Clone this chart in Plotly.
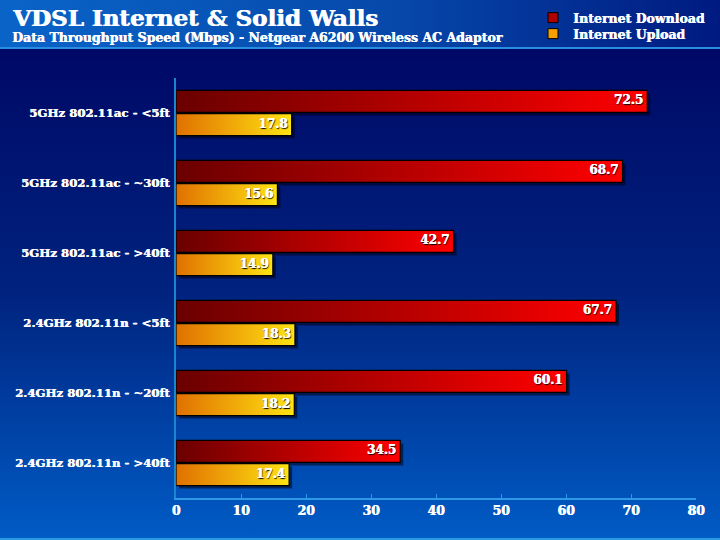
import base64
import plotly.graph_objects as go

categories = ["5GHz 802.11ac - <5ft", "5GHz 802.11ac - ~30ft", "5GHz 802.11ac - >40ft",
              "2.4GHz 802.11n - <5ft", "2.4GHz 802.11n - ~20ft", "2.4GHz 802.11n - >40ft"]
download = [72.5, 68.7, 42.7, 67.7, 60.1, 34.5]
upload = [17.8, 15.6, 14.9, 18.3, 18.2, 17.4]
x_ticks = [0, 10, 20, 30, 40, 50, 60, 70, 80]

W, H = 720, 540
L, R, T, B = 176, 24, 78, 42
PW, PH = W - L - R, H - T - B
FONT = "DejaVu Serif"
THICK = "0.6px 0 0 #ffffff"

svg = f'''<svg xmlns="http://www.w3.org/2000/svg" width="{W}" height="{H}" viewBox="0 0 {W} {H}" preserveAspectRatio="none">
<defs>
<linearGradient id="hd" x1="0" y1="0" x2="1" y2="0">
<stop offset="0" stop-color="#0a64c8"/><stop offset="0.55" stop-color="#0648aa"/><stop offset="1" stop-color="#001a80"/>
</linearGradient>
<linearGradient id="bd" x1="0" y1="0" x2="0" y2="1">
<stop offset="0" stop-color="#000866"/><stop offset="0.5" stop-color="#00237f"/><stop offset="1" stop-color="#005cc6"/>
</linearGradient>
</defs>
<rect x="0" y="0" width="{W}" height="48" fill="url(#hd)"/>
<rect x="0" y="48" width="{W}" height="{H-48}" fill="url(#bd)"/>
<rect x="0" y="47" width="{W}" height="2" fill="#2a8ee0"/>
<rect x="0" y="{H-2}" width="{W}" height="2" fill="#2a9ae6"/>
</svg>'''
svg_uri = "data:image/svg+xml;base64," + base64.b64encode(svg.encode()).decode()

fig = go.Figure()

bar_h = 22 / 70
off = 0.165
px_x = 80 / PW
px_y = 6 / PH


def rect(v, c):
    y0, y1 = c - bar_h / 2, c + bar_h / 2
    return [0, v, v, 0, 0], [y0, y0, y1, y1, y0]


series = [
    ("Internet Download", download, -off, ["#6a0000", "#ff0000"], "#b00000", "legend"),
    ("Internet Upload", upload, off, ["#e07000", "#ffe412"], "#f5a000", "legend2"),
]

# shadows
for name, vals, o, cs, lc, lg in series:
    for i, v in enumerate(vals):
        xs, ys = rect(v, i + o)
        fig.add_trace(go.Scatter(
            x=[x + 3 * px_x for x in xs], y=[y + 3 * px_y for y in ys],
            fill="toself", fillcolor="rgba(0,0,20,0.55)", mode="lines",
            line=dict(width=0), showlegend=False, hoverinfo="skip"))

for name, vals, o, cs, lc, lg in series:
    for i, v in enumerate(vals):
        xs, ys = rect(v, i + o)
        fig.add_trace(go.Scatter(
            x=xs, y=ys, fill="toself", mode="lines",
            fillgradient=dict(type="horizontal", colorscale=[[0, cs[0]], [1, cs[1]]]),
            line=dict(color="#000000", width=1.2), showlegend=False, name=name))
    fig.add_trace(go.Scatter(
        x=vals, y=[i + o for i in range(len(vals))], mode="text",
        text=[f"{v:.1f} " for v in vals], textposition="middle left",
        textfont=dict(family=FONT, size=12, color="white", weight="bold",
                      shadow="0.6px 0 0 #ffffff, 1px 1px 1px #000000"),
        showlegend=False, hoverinfo="skip"))
    fig.add_trace(go.Scatter(
        x=[None], y=[None], mode="markers", name=name, legend=lg,
        marker=dict(symbol="square", size=10, color=lc, line=dict(color="black", width=1))))

leg_common = dict(xref="container", yref="container", x=533 / W,
                  xanchor="left", yanchor="middle", bgcolor="rgba(0,0,0,0)",
                  font=dict(family=FONT, size=12.5, color="white", weight="bold", shadow=THICK),
                  itemwidth=30)

fig.update_layout(
    width=W, height=H,
    margin=dict(l=L, r=R, t=T, b=B, autoexpand=False),
    paper_bgcolor="#001a80", plot_bgcolor="rgba(0,0,0,0)",
    images=[dict(source=svg_uri, xref="paper", yref="paper",
                 x=-L / PW, y=1 + T / PH, sizex=W / PW, sizey=H / PH,
                 xanchor="left", yanchor="top", sizing="stretch", layer="below")],
    xaxis=dict(range=[0, 80], tickvals=x_ticks, showgrid=False, zeroline=False,
               showline=True, linecolor="#2a9ae6", linewidth=2,
               ticks="inside", ticklen=4, tickcolor="#2a9ae6",
               tickfont=dict(family=FONT, size=12.5, color="white", weight="bold", shadow=THICK)),
    yaxis=dict(range=[5.5, -0.5], tickvals=list(range(len(categories))), ticktext=categories,
               showgrid=False, zeroline=False, showline=True, linecolor="#1a86d0", linewidth=2,
               ticks="", ticklabelstandoff=2,
               tickfont=dict(family=FONT, size=11.7, color="white", weight="bold", shadow=THICK)),
    legend=dict(y=1 - 18 / H, **leg_common),
    legend2=dict(y=1 - 34 / H, **leg_common),
    annotations=[
        dict(text="VDSL Internet &amp; Solid Walls", xref="paper", yref="paper",
             x=(10 - L) / PW, y=1 + (T - 17) / PH, xanchor="left", yanchor="middle",
             showarrow=False, font=dict(family=FONT, size=23, color="white", weight="bold",
                                        shadow="0.8px 0 0 #ffffff")),
        dict(text="Data Throughput Speed (Mbps) - Netgear A6200 Wireless AC Adaptor",
             xref="paper", yref="paper",
             x=(10 - L) / PW, y=1 + (T - 38) / PH, xanchor="left", yanchor="middle",
             showarrow=False, font=dict(family=FONT, size=12.5, color="white", weight="bold",
                                        shadow=THICK)),
    ],
    hovermode=False,
)

fig.write_html("out.html", config={"displayModeBar": False},
               post_script="document.body.style.margin='0';document.body.style.overflow='hidden';")
